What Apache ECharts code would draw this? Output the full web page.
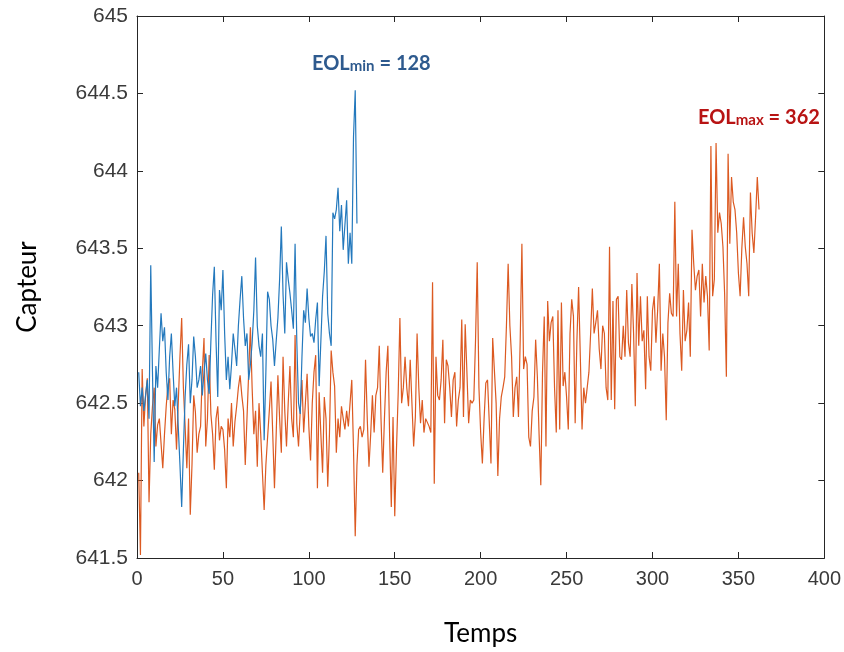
<!DOCTYPE html>
<html>
<head>
<meta charset="utf-8">
<script src="https://cdn.jsdelivr.net/npm/echarts@6/dist/echarts.min.js"></script>
<style>
html,body{margin:0;padding:0;background:#fff;}
#chart{width:844px;height:652px;}
</style>
</head>
<body>
<div id="chart"></div>
<script>
// ---- Data ----
const xTicks = [0, 50, 100, 150, 200, 250, 300, 350, 400];
const yTicks = [641.5, 642, 642.5, 643, 643.5, 644, 644.5, 645];

// Short-life unit (EOLmin = 128), one value per time step 1..128
const blueValues = [
  642.70, 642.48, 642.60, 642.45, 642.55, 642.65, 642.40, 643.39, 642.70, 642.12,
  642.74, 642.60, 642.85, 643.08, 642.90, 642.99, 642.70, 642.52, 642.80, 642.95,
  642.70, 642.48, 642.60, 642.35, 642.10, 641.83, 642.20, 642.54, 642.75, 642.88,
  642.50, 642.65, 642.93, 642.80, 642.60, 642.65, 642.74, 642.55, 642.70, 642.82,
  642.65, 642.56, 642.90, 643.20, 643.38, 642.90, 642.54, 643.23, 643.10, 643.36,
  642.95, 642.65, 642.80, 642.59, 642.75, 642.95, 642.85, 642.74, 643.00, 643.17,
  643.32, 643.05, 642.87, 642.95, 642.65, 642.75, 642.89, 643.10, 643.44, 643.00,
  642.87, 642.80, 642.95, 642.26, 642.70, 643.22, 643.17, 643.00, 642.91, 642.74,
  642.90, 643.05, 643.30, 643.64, 643.20, 642.95, 643.41, 643.30, 643.21, 643.10,
  642.98, 643.53, 642.90, 642.50, 642.43, 642.80, 643.10, 643.02, 643.24, 643.05,
  642.93, 642.95, 642.89, 643.04, 643.15, 642.61, 642.90, 643.19, 643.35, 643.58,
  643.08, 642.95, 642.87, 643.73, 643.69, 643.75, 643.89, 643.61, 643.78, 643.49,
  643.65, 643.81, 643.40, 643.60, 643.40, 644.22, 644.52, 643.66
];

// Long-life unit (EOLmax = 362), one value per time step 1..362
const orangeValues = [
  642.05, 641.52, 642.72, 642.35, 642.55, 642.66, 641.86, 642.30, 642.48, 642.60,
  642.22, 642.36, 642.40, 642.24, 642.08, 642.30, 642.48, 642.62, 642.66, 642.30,
  642.52, 642.46, 642.20, 642.50, 642.80, 643.05, 642.60, 642.35, 642.08, 642.40,
  641.78, 642.10, 642.55, 642.44, 642.18, 642.30, 642.35, 642.70, 642.92, 642.22,
  642.40, 642.81, 642.43, 642.30, 642.07, 642.40, 642.48, 642.26, 642.35, 642.33,
  642.20, 641.95, 642.40, 642.28, 642.50, 642.22, 642.38, 642.48, 642.60, 642.68,
  642.55, 642.45, 642.10, 642.40, 642.70, 642.99, 642.60, 642.30, 642.45, 642.09,
  642.50, 642.30, 642.05, 641.81, 642.10, 642.28, 642.45, 642.64, 642.30, 641.95,
  642.30, 642.68, 642.40, 642.18, 642.80, 642.45, 642.22, 642.50, 642.74, 642.40,
  642.28, 642.94, 642.37, 642.22, 642.45, 642.65, 642.31, 642.50, 642.69, 642.35,
  642.13, 642.50, 642.70, 642.81, 641.95, 642.57, 642.30, 642.05, 642.54, 642.40,
  641.96, 642.30, 642.84, 642.70, 642.61, 642.18, 642.40, 642.28, 642.48, 642.40,
  642.33, 642.45, 642.35, 642.50, 642.65, 642.20, 641.64, 642.10, 642.33, 642.35,
  642.28, 642.33, 642.78, 642.40, 642.09, 642.30, 642.55, 642.31, 642.55, 642.60,
  642.87, 642.40, 642.05, 642.40, 642.70, 642.87, 642.30, 641.83, 642.41, 641.77,
  642.20, 642.56, 643.05, 642.50, 642.60, 642.80, 642.60, 642.48, 642.78, 642.50,
  642.22, 642.41, 642.95, 642.60, 642.37, 642.52, 642.31, 642.40, 642.39, 642.35,
  642.31, 643.28, 641.98, 642.80, 642.55, 642.52, 642.65, 642.91, 642.37, 642.78,
  642.74, 642.60, 642.41, 642.65, 642.70, 642.35, 642.52, 642.60, 643.04, 642.41,
  643.01, 642.70, 642.37, 642.52, 642.50, 642.52, 642.90, 643.41, 642.60, 642.31,
  642.11, 642.40, 642.63, 642.65, 642.64, 642.11, 642.92, 642.91, 642.50, 642.03,
  642.40, 642.54, 642.60, 642.67, 643.00, 643.40, 643.00, 642.80, 642.41, 642.60,
  642.67, 642.41, 642.90, 643.53, 642.72, 642.80, 642.75, 642.28, 642.22, 642.45,
  642.54, 642.91, 642.67, 642.30, 641.97, 642.70, 643.06, 642.22, 643.16, 642.90,
  643.02, 643.06, 642.60, 642.31, 643.10, 642.33, 643.15, 642.61, 642.70, 642.54,
  642.33, 642.95, 643.17, 643.06, 642.37, 642.90, 643.25, 642.80, 642.33, 642.60,
  642.50, 642.60, 642.70, 642.95, 643.24, 642.95, 643.02, 643.10, 642.85, 642.72,
  643.00, 642.95, 642.60, 642.52, 643.51, 642.52, 643.16, 642.46, 643.17, 643.19,
  642.80, 642.78, 643.00, 642.80, 643.23, 642.89, 642.80, 643.27, 642.95, 642.48,
  643.34, 642.87, 643.19, 642.90, 642.97, 642.59, 643.19, 642.80, 642.71, 643.10,
  643.19, 642.89, 643.10, 643.40, 642.71, 642.95, 642.80, 642.39, 643.02, 643.21,
  643.08, 643.06, 643.80, 643.06, 643.40, 642.95, 642.71, 643.23, 642.90, 642.97,
  643.15, 642.80, 643.62, 643.40, 643.23, 643.32, 643.36, 643.06, 643.40, 643.15,
  643.32, 643.19, 642.84, 644.16, 643.19, 643.30, 644.18, 643.60, 643.73, 643.66,
  643.51, 643.20, 642.67, 644.11, 643.53, 643.96, 643.80, 643.75, 643.60, 643.34,
  643.19, 643.50, 643.70, 643.51, 643.40, 643.19, 643.86, 643.60, 643.47, 643.70,
  643.96, 643.75
];

const xAxisTitle = 'Temps';
const yAxisTitle = 'Capteur';
const eolMin = 128;
const eolMax = 362;

// ---- Chart ----
const chart = echarts.init(document.getElementById('chart'), null, {renderer: 'canvas'});

const axisColor = '#262626';
const labelColor = '#3a3a3a';
const tickFont = '"Liberation Sans", Arial, sans-serif';
const titleFont = 'Lato, "Open Sans", sans-serif';

function baseX(extra) {
  return Object.assign({
    type: 'value', min: xTicks[0], max: xTicks[xTicks.length - 1], interval: xTicks[1] - xTicks[0],
    axisLine: {show: true, onZero: false, lineStyle: {color: axisColor, width: 1}},
    axisTick: {show: true, inside: true, length: 6, lineStyle: {color: axisColor}},
    splitLine: {show: false}
  }, extra);
}
function baseY(extra) {
  return Object.assign({
    type: 'value', min: yTicks[0], max: yTicks[yTicks.length - 1], interval: yTicks[1] - yTicks[0],
    axisLine: {show: true, onZero: false, lineStyle: {color: axisColor, width: 1}},
    axisTick: {show: true, inside: true, length: 6, lineStyle: {color: axisColor}},
    splitLine: {show: false}
  }, extra);
}

function eolTitle(sub, value, color, left, top) {
  return {
    text: '{a|EOL}{b|' + sub + '}{a| = ' + value + '}',
    left: left, top: top,
    textStyle: {rich: {
      a: {fontSize: 20, fontWeight: 'bold', color: color, fontFamily: titleFont, verticalAlign: 'bottom', lineHeight: 24},
      b: {fontSize: 15, fontWeight: 'bold', color: color, fontFamily: titleFont, verticalAlign: 'bottom', lineHeight: 22}
    }}
  };
}

const option = {
  animation: false,
  backgroundColor: '#ffffff',
  grid: {left: 137, right: 19, top: 16, bottom: 94, containLabel: false},
  title: [
    eolTitle('min', eolMin, '#2E5A8E', 307, 45),
    eolTitle('max', eolMax, '#B81414', 693, 99)
  ],
  xAxis: [
    baseX({
      position: 'bottom',
      axisLabel: {show: true, fontSize: 20, color: labelColor, fontFamily: tickFont, margin: 11},
      name: xAxisTitle, nameLocation: 'middle', nameGap: 63,
      nameTextStyle: {fontSize: 26, color: '#000', fontFamily: titleFont}
    }),
    baseX({position: 'top', axisLabel: {show: false}})
  ],
  yAxis: [
    baseY({
      position: 'left',
      axisLabel: {show: true, fontSize: 21, color: labelColor, fontFamily: tickFont, margin: 9},
      name: yAxisTitle, nameLocation: 'middle', nameGap: 96, nameRotate: 90,
      nameTextStyle: {fontSize: 26, color: '#000', fontFamily: titleFont}
    }),
    baseY({position: 'right', axisLabel: {show: false}})
  ],
  series: [
    {
      type: 'line', name: 'EOLmax', xAxisIndex: 0, yAxisIndex: 0,
      data: orangeValues.map((v, i) => [i + 1, v]),
      showSymbol: false, symbol: 'none',
      lineStyle: {color: '#DC5A22', width: 1.2},
      z: 2
    },
    {
      type: 'line', name: 'EOLmin', xAxisIndex: 0, yAxisIndex: 0,
      data: blueValues.map((v, i) => [i + 1, v]),
      showSymbol: false, symbol: 'none',
      lineStyle: {color: '#2479BD', width: 1.2},
      z: 3
    }
  ]
};
chart.setOption(option);
</script>
</body>
</html>
